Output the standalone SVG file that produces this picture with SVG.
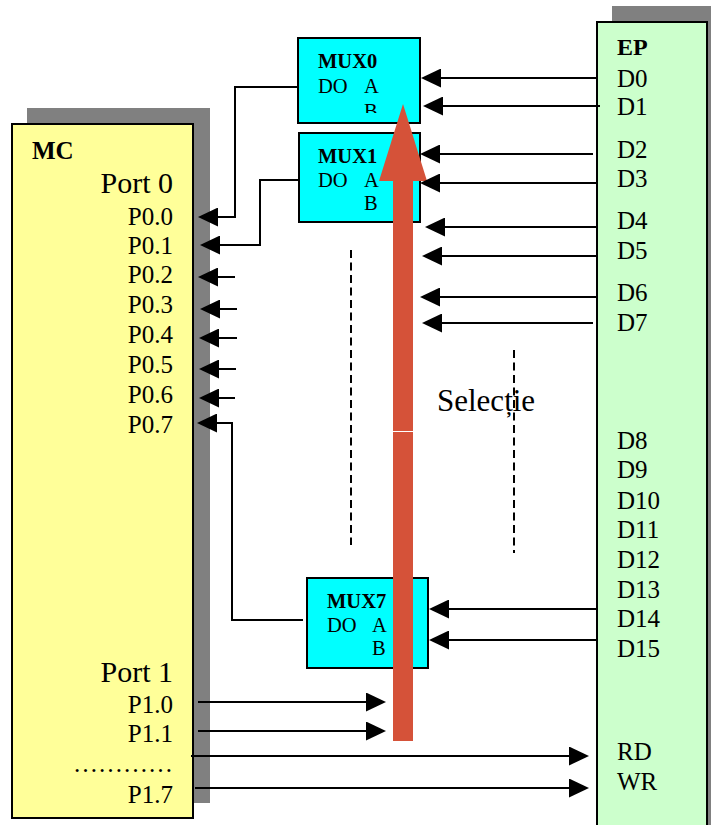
<svg xmlns="http://www.w3.org/2000/svg" width="711" height="825" viewBox="0 0 711 825">
<style>
text{font-family:"Liberation Serif","Times New Roman",serif;fill:#000}
.lbl{font-size:25px}
.big{font-size:30px}
.bold{font-weight:bold}
.mux{font-size:20.5px}
.box{stroke:#000;stroke-width:2}
.shadow{fill:#808080}
.conn{fill:none;stroke:#000;stroke-width:2;marker-end:url(#ah)}
.dash{stroke:#000;stroke-width:2;stroke-dasharray:8 4.5;fill:none}
</style>
<defs>
<marker id="ah" markerUnits="userSpaceOnUse" markerWidth="20" markerHeight="19" refX="18" refY="9.5" orient="auto">
<path d="M0,0 L20,9.5 L0,19 Z" fill="#000"/>
</marker>
<clipPath id="clipB"><rect x="300" y="40" width="118" height="73"/></clipPath>
</defs>
<rect width="711" height="825" fill="#fff"/>

<g id="MC">
<rect class="shadow" x="27" y="108" width="183" height="695"/>
<rect class="box" x="12" y="124" width="181" height="694" fill="#FFFF99"/>
<text class="bold" x="32" y="159" style="font-size:25px">MC</text>
<text class="big" x="173" y="193" text-anchor="end">Port 0</text>
<g class="lbl" text-anchor="end">
<text x="173" y="225">P0.0</text>
<text x="173" y="254">P0.1</text>
<text x="173" y="283">P0.2</text>
<text x="173" y="313">P0.3</text>
<text x="173" y="343">P0.4</text>
<text x="173" y="373">P0.5</text>
<text x="173" y="403">P0.6</text>
<text x="173" y="433">P0.7</text>
<text x="173" y="713">P1.0</text>
<text x="173" y="742">P1.1</text>
<text x="173" y="772">…………</text>
<text x="173" y="803">P1.7</text>
</g>
<text class="big" x="173" y="682" text-anchor="end">Port 1</text>
</g>

<g id="EP">
<rect class="shadow" x="612" y="6" width="99" height="819"/>
<rect class="box" x="597" y="22" width="110" height="810" fill="#CCFFCC"/>
<text class="bold" x="617" y="55" style="font-size:24px">EP</text>
<g class="lbl">
<text x="617" y="87">D0</text>
<text x="617" y="115">D1</text>
<text x="617" y="158">D2</text>
<text x="617" y="187">D3</text>
<text x="617" y="229">D4</text>
<text x="617" y="259">D5</text>
<text x="617" y="301">D6</text>
<text x="617" y="331">D7</text>
<text x="617" y="449">D8</text>
<text x="617" y="478">D9</text>
<text x="617" y="509">D10</text>
<text x="617" y="538">D11</text>
<text x="617" y="568">D12</text>
<text x="617" y="598">D13</text>
<text x="617" y="627">D14</text>
<text x="617" y="657">D15</text>
<text x="617" y="760">RD</text>
<text x="617" y="790">WR</text>
</g>
</g>

<g id="MUX0">
<rect class="box" x="298" y="38" width="122" height="85" fill="#00FFFF"/>
<text class="mux bold" x="318" y="68">MUX0</text>
<text class="mux" x="318" y="93">DO</text>
<text class="mux" x="364" y="93">A</text>
<text class="mux" x="364" y="118" clip-path="url(#clipB)">B</text>
</g>

<g id="MUX1">
<rect class="box" x="299" y="133" width="121" height="89" fill="#00FFFF"/>
<text class="mux bold" x="318" y="163">MUX1</text>
<text class="mux" x="318" y="187">DO</text>
<text class="mux" x="364" y="187">A</text>
<text class="mux" x="364" y="210">B</text>
</g>

<g id="MUX7">
<rect class="box" x="307" y="578" width="121" height="90" fill="#00FFFF"/>
<text class="mux bold" x="327" y="608">MUX7</text>
<text class="mux" x="327" y="632">DO</text>
<text class="mux" x="372" y="632">A</text>
<text class="mux" x="372" y="655">B</text>
</g>

<g id="selectie">
<rect x="393" y="180" width="20" height="561" fill="#D55239"/>
<polygon points="403,104 379,181 427,181" fill="#D55239"/>
<line x1="393" y1="431.5" x2="413" y2="431.5" stroke="#fff" stroke-width="1"/>
<text x="437" y="411" style="font-size:31px">Selecție</text>
</g>

<g id="dashes">
<line class="dash" x1="351" y1="250" x2="351" y2="545"/>
<line class="dash" x1="514" y1="350" x2="514" y2="553"/>
</g>

<g id="connectors">
<line class="conn" x1="597" y1="78" x2="423" y2="78"/>
<line class="conn" x1="600" y1="106" x2="425" y2="106"/>
<line class="conn" x1="593" y1="154" x2="422" y2="154"/>
<line class="conn" x1="597" y1="183" x2="422" y2="183"/>
<line class="conn" x1="597" y1="227" x2="427" y2="227"/>
<line class="conn" x1="598" y1="256" x2="424" y2="256"/>
<line class="conn" x1="597" y1="297" x2="422" y2="297"/>
<line class="conn" x1="593" y1="323" x2="424" y2="323"/>
<line class="conn" x1="597" y1="609" x2="431" y2="609"/>
<line class="conn" x1="598" y1="640" x2="431" y2="640"/>
<polyline class="conn" points="298,87 235,87 235,217 200,217"/>
<polyline class="conn" points="299,180 260,180 260,245 202,245"/>
<line class="conn" x1="235" y1="277" x2="200" y2="277"/>
<line class="conn" x1="237" y1="309" x2="202" y2="309"/>
<line class="conn" x1="237" y1="338" x2="201" y2="338"/>
<line class="conn" x1="236" y1="369" x2="201" y2="369"/>
<line class="conn" x1="235" y1="398" x2="201" y2="398"/>
<polyline class="conn" points="303,620 232,620 232,423 199,423"/>
<line class="conn" x1="198" y1="702" x2="384" y2="702"/>
<line class="conn" x1="198" y1="731" x2="384" y2="731"/>
<line class="conn" x1="191" y1="756" x2="587" y2="756"/>
<line class="conn" x1="195" y1="788" x2="587" y2="788"/>
</g>
</svg>
